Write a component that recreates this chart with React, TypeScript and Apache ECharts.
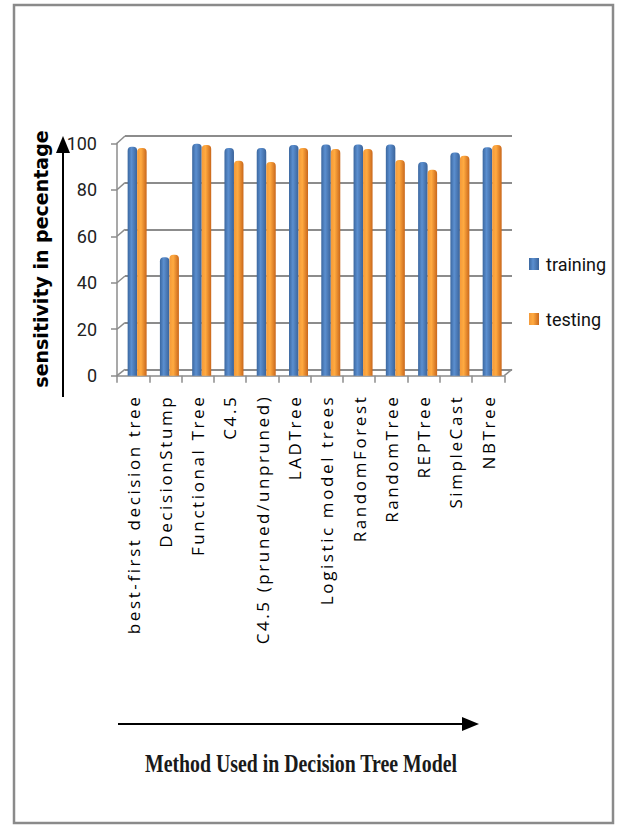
import React, { useEffect, useRef } from "react";
import * as echarts from "echarts";

const categories = [
  "best-first decision tree",
  "DecisionStump",
  "Functional Tree",
  "C4.5",
  "C4.5 (pruned/unpruned)",
  "LADTree",
  "Logistic model trees",
  "RandomForest",
  "RandomTree",
  "REPTree",
  "SimpleCast",
  "NBTree",
];
const training = [98.5, 51, 99.8, 98, 98, 99.3, 99.5, 99.5, 99.5, 92, 96, 98.3];
const testing = [98, 52, 99.3, 92.5, 92, 98, 97.6, 97.6, 92.8, 88.6, 94.6, 99.3];
const yTicks = [0, 20, 40, 60, 80, 100];

const W = 617;
const H = 825;
// front plane (axis labels / ticks)
const FL = 117, FR = 504.3, FT = 143.3, FB = 375.7;
// back wall (gridlines)
const BL = 125, BR = 512, BT = 136, BB = 369.3;
// bars plane
const PL = 121, PR = 508.3;

const blueGrad = new echarts.graphic.LinearGradient(0, 0, 1, 0, [
  { offset: 0, color: "#3b679f" },
  { offset: 0.4, color: "#5b8fd0" },
  { offset: 1, color: "#3a639a" },
]);
const orangeGrad = new echarts.graphic.LinearGradient(0, 0, 1, 0, [
  { offset: 0, color: "#f39a3a" },
  { offset: 0.4, color: "#ffaa40" },
  { offset: 1, color: "#c9671b" },
]);

const css = `.chartbox svg text[style*="Open Sans"] { letter-spacing: 2.6px; }`;

export default function App() {
  const ref = useRef<HTMLDivElement>(null);
  useEffect(() => {
    if (!ref.current) return;
    const chart = echarts.init(ref.current, null, { renderer: "svg" });
    const connectors = yTicks.map((v) => {
      const yf = FB - ((FB - FT) * v) / 100;
      const yb = BB - ((BB - BT) * v) / 100;
      return {
        type: "line",
        shape: { x1: FL, y1: yf, x2: BL, y2: yb },
        style: { stroke: "#8c8c8c", lineWidth: 1.5 },
        z: 1,
      };
    });
    chart.setOption({
      animation: false,
      backgroundColor: "#ffffff",
      textStyle: { fontFamily: "Roboto" },
      grid: [
        { left: FL, top: FT, width: FR - FL, height: FB - FT },
        { left: BL, top: BT, width: BR - BL, height: BB - BT },
        { left: PL, top: FT, width: PR - PL, height: FB - FT },
      ],
      xAxis: [
        {
          gridIndex: 0,
          type: "category",
          data: categories,
          boundaryGap: true,
          axisLine: { show: true, lineStyle: { color: "#8c8c8c", width: 1.5 } },
          axisTick: { show: true, interval: 0, length: 7, lineStyle: { color: "#8c8c8c", width: 1.5 } },
          axisLabel: {
            interval: 0,
            rotate: 90,
            margin: 19,
            fontSize: 17,
            color: "#000",
            fontFamily: "Open Sans",
          },
        },
        { gridIndex: 1, type: "category", data: categories, show: false },
        { gridIndex: 2, type: "category", data: categories, show: false },
      ],
      yAxis: [
        {
          gridIndex: 0,
          type: "value",
          min: 0,
          max: 100,
          interval: 20,
          axisLine: { show: true, lineStyle: { color: "#8c8c8c", width: 1.5 } },
          axisTick: { show: true, length: 6, lineStyle: { color: "#8c8c8c", width: 1.5 } },
          splitLine: { show: false },
          axisLabel: { fontSize: 18, color: "#222", margin: 20, fontFamily: "Roboto" },
        },
        {
          gridIndex: 1,
          type: "value",
          min: 0,
          max: 100,
          interval: 20,
          axisLine: { show: false },
          axisTick: { show: false },
          axisLabel: { show: false },
          splitLine: { show: true, lineStyle: { color: "#8c8c8c", width: 2 } },
        },
        { gridIndex: 2, type: "value", min: 0, max: 100, show: false, splitLine: { show: false } },
      ],
      legend: {
        orient: "vertical",
        left: 524,
        top: 250,
        itemGap: 37,
        itemWidth: 10,
        itemHeight: 12,
        icon: "rect",
        textStyle: { fontSize: 18, color: "#111", fontFamily: "Roboto", padding: [0, 0, 0, 2] },
        data: ["training", "testing"],
      },
      series: [
        {
          name: "training",
          type: "bar",
          xAxisIndex: 2,
          yAxisIndex: 2,
          data: training,
          barWidth: 9.5,
          barGap: "0%",
          itemStyle: { color: blueGrad, borderRadius: [4, 4, 0, 0] },
          z: 3,
        },
        {
          name: "testing",
          type: "bar",
          xAxisIndex: 2,
          yAxisIndex: 2,
          data: testing,
          barWidth: 9.5,
          barGap: "0%",
          itemStyle: { color: orangeGrad, borderRadius: [4, 4, 0, 0] },
          z: 3,
        },
      ],
      graphic: [
        {
          type: "rect",
          shape: { x: 14, y: 5, width: 599, height: 818 },
          style: { fill: "none", stroke: "#8a8a8a", lineWidth: 2.5 },
          z: 0,
        },
        ...connectors,
        {
          type: "line",
          shape: { x1: FR, y1: FB, x2: BR, y2: BB },
          style: { stroke: "#8c8c8c", lineWidth: 1.5 },
        },
        {
          type: "line",
          shape: { x1: 63, y1: 397, x2: 63, y2: 150 },
          style: { stroke: "#000", lineWidth: 2 },
        },
        {
          type: "polygon",
          shape: { points: [[56, 153], [70, 153], [63, 136]] },
          style: { fill: "#000" },
        },
        {
          type: "line",
          shape: { x1: 118, y1: 724, x2: 465, y2: 724 },
          style: { stroke: "#000", lineWidth: 2 },
        },
        {
          type: "polygon",
          shape: { points: [[462, 717], [462, 731], [479, 724]] },
          style: { fill: "#000" },
        },
        {
          type: "text",
          x: 41,
          y: 259,
          rotation: Math.PI / 2,
          style: {
            text: "sensitivity in pecentage",
            fontFamily: "DejaVu Sans",
            fontWeight: "bold",
            fontSize: 19,
            fill: "#000",
            align: "center",
            verticalAlign: "middle",
          },
        },
        {
          type: "text",
          x: 301,
          y: 764,
          scaleX: 0.793,
          style: {
            text: "Method Used in Decision Tree Model",
            fontFamily: "Liberation Serif",
            fontWeight: "bold",
            fontSize: 25,
            fill: "#1a1a1a",
            align: "center",
            verticalAlign: "middle",
          },
        },
      ],
    });
    return () => chart.dispose();
  }, []);
  return (
    <>
      <style>{css}</style>
      <div
        ref={ref}
        className="chartbox"
        style={{ position: "fixed", left: 0, top: 0, width: W, height: H, background: "#fff" }}
      />
    </>
  );
}
